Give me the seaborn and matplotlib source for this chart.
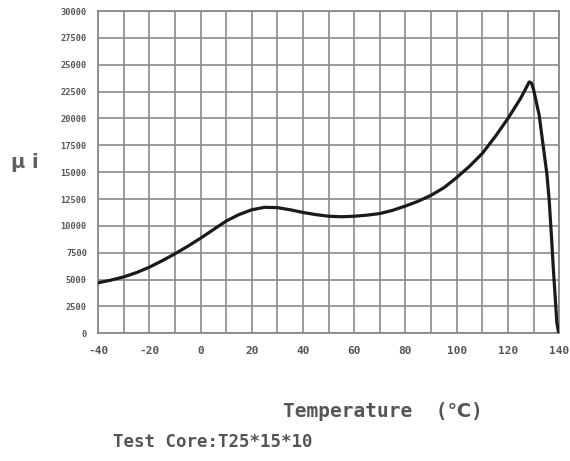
import matplotlib
matplotlib.use("Agg")
import matplotlib.pyplot as plt
import seaborn as sns
import pandas as pd
from matplotlib.ticker import MultipleLocator

# Initial permeability vs temperature, test core T25*15*10
temperature = [-40, -35, -30, -25, -20, -15, -10, -5, 0, 5, 10, 15, 20, 25, 30,
               35, 40, 45, 50, 55, 60, 65, 70, 75, 80, 85, 90, 95, 100, 105,
               110, 115, 120, 125, 127, 128.3, 129.2, 130, 132.2, 133.9, 135.2,
               136.1, 137.0, 137.8, 139.1, 139.8]
permeability = [4700, 4950, 5250, 5650, 6150, 6750, 7400, 8100, 8850, 9650,
                10450, 11050, 11500, 11730, 11700, 11500, 11250, 11050, 10900,
                10850, 10900, 11000, 11150, 11450, 11850, 12300, 12850, 13550,
                14500, 15550, 16750, 18300, 20000, 21900, 22800, 23400, 23300,
                22700, 20300, 17200, 14850, 12400, 9000, 5700, 1000, 0]

x_ticks = [-40, -20, 0, 20, 40, 60, 80, 100, 120, 140]
y_ticks = [0, 2500, 5000, 7500, 10000, 12500, 15000, 17500, 20000, 22500,
           25000, 27500, 30000]

df = pd.DataFrame({"T": temperature, "mu": permeability})

sns.set_theme(style="white")
plt.rcParams["font.family"] = ["DejaVu Sans Mono", "DejaVu Sans"]

grid_c = "#8a8a8a"
text_c = "#555555"

fig = plt.figure(figsize=(5.70, 4.61), dpi=100)
ax = fig.add_axes([0.172, 0.277, 0.809, 0.699])

sns.lineplot(data=df, x="T", y="mu", ax=ax, color="#1a1a1a", linewidth=2.3,
             sort=False, zorder=5)

ax.set_xlim(-40, 140)
ax.set_ylim(0, 30000)
ax.set_xticks(x_ticks)
ax.set_yticks(y_ticks)
ax.xaxis.set_minor_locator(MultipleLocator(10))
ax.set_xticklabels([str(v) for v in x_ticks], fontsize=8, fontweight="bold",
                   color=text_c)
ax.set_yticklabels([str(v) for v in y_ticks], fontsize=6.2, fontweight="bold",
                   color=text_c)
ax.tick_params(axis="x", which="both", length=0, pad=9)
ax.tick_params(axis="y", which="both", length=0, pad=8)

ax.grid(True, which="major", color=grid_c, linewidth=1.2)
ax.grid(True, which="minor", axis="x", color=grid_c, linewidth=1.2)
for sp in ax.spines.values():
    sp.set_visible(True)
    sp.set_color(grid_c)
    sp.set_linewidth(1.3)

ax.set_xlabel("")
ax.set_ylabel("")

fig.text(0.044, 0.648, "μ i", fontsize=14, fontweight="bold", color="#5f5f5f",
         ha="center", va="center", family=["DejaVu Sans"])
fig.text(0.672, 0.108, "Temperature  (℃)", fontsize=14, fontweight="bold",
         color=text_c, ha="center", va="center")
fig.text(0.198, 0.041, "Test Core:T25*15*10", fontsize=12.5, fontweight="bold",
         color=text_c, ha="left", va="center")

fig.savefig("out.png", dpi=100, facecolor="white")
